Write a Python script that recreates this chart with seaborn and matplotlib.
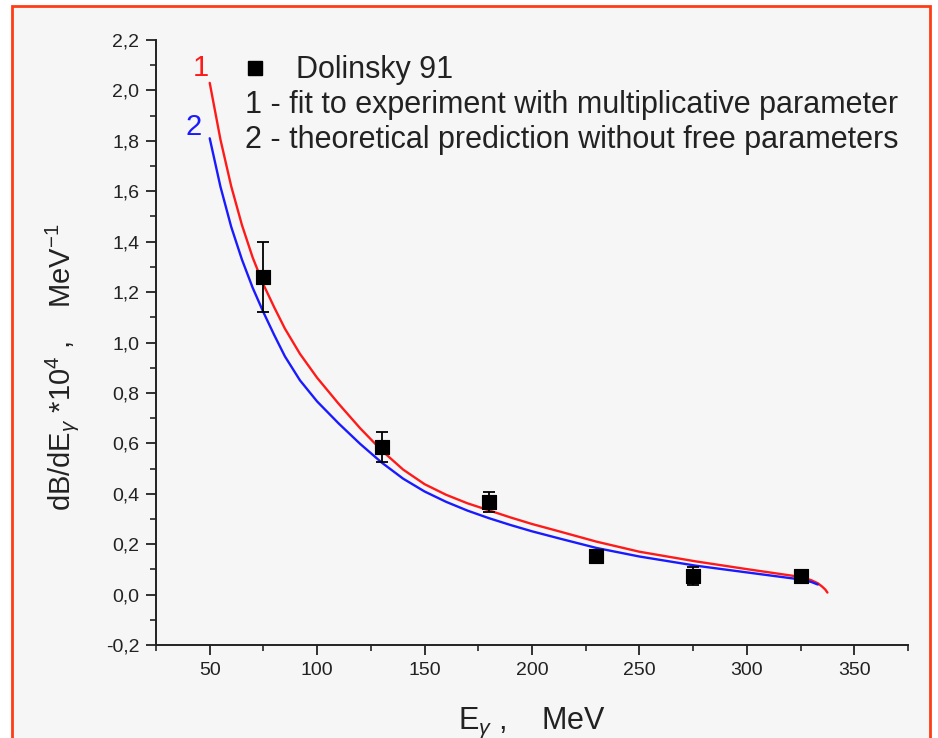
import numpy as np
import pandas as pd
import matplotlib
matplotlib.use("Agg")
import matplotlib.pyplot as plt
import seaborn as sns
from matplotlib.patches import Rectangle
from matplotlib.lines import Line2D
from matplotlib.ticker import MultipleLocator, FuncFormatter

# Dolinsky 91 data points
exp_e = [75, 130, 180, 230, 275, 325]
exp_val = [1.26, 0.585, 0.367, 0.152, 0.073, 0.073]
exp_err = [0.14, 0.06, 0.04, 0.015, 0.035, 0.0]

# curve 1 - fit (red)
fit_e = [50, 55, 60, 65, 70, 75, 80, 85, 92, 100, 110, 120, 130, 140, 150, 160,
         170, 180, 190, 200, 213, 230, 250, 276, 300, 325, 330, 333, 335, 336.5, 337.5]
fit_val = [2.03, 1.805, 1.62, 1.466, 1.337, 1.23, 1.14, 1.055, 0.955, 0.86, 0.757,
           0.66, 0.572, 0.496, 0.438, 0.396, 0.362, 0.334, 0.306, 0.28, 0.25, 0.21,
           0.17, 0.132, 0.101, 0.07, 0.057, 0.045, 0.032, 0.02, 0.008]

# curve 2 - theory (blue)
th_e = [50, 55, 60, 65, 70, 75, 80, 85, 92, 100, 110, 120, 130, 140, 150, 160,
        170, 180, 190, 200, 213, 230, 250, 276, 300, 325, 330, 333]
th_val = [1.81, 1.618, 1.459, 1.329, 1.217, 1.12, 1.03, 0.945, 0.85, 0.766, 0.679,
          0.598, 0.524, 0.46, 0.409, 0.368, 0.333, 0.303, 0.276, 0.251, 0.222, 0.185,
          0.151, 0.115, 0.088, 0.060, 0.050, 0.040]

sns.set_style("ticks")
plt.rcParams["font.family"] = ["Liberation Sans", "DejaVu Sans"]
plt.rcParams["mathtext.fontset"] = "custom"
plt.rcParams["mathtext.rm"] = "Liberation Sans"
plt.rcParams["mathtext.it"] = "Liberation Sans:italic"

fig = plt.figure(figsize=(9.38, 7.38), dpi=100, facecolor="white")
fig.patches.append(Rectangle((12 / 938, -0.02), 918 / 938, 1 - 6 / 738 + 0.02,
                             transform=fig.transFigure, facecolor="#f6f6f6",
                             edgecolor="#ff3c14", linewidth=2, zorder=-10))
ax = fig.add_axes([156 / 938, 1 - 645 / 738, (908 - 156) / 938, (645 - 40) / 738])
ax.set_facecolor("none")

fit_df = pd.DataFrame({"E": fit_e, "y": fit_val})
th_df = pd.DataFrame({"E": th_e, "y": th_val})
sns.lineplot(data=fit_df, x="E", y="y", ax=ax, color="#ff1a1a", lw=1.7, sort=False)
sns.lineplot(data=th_df, x="E", y="y", ax=ax, color="#1a1aff", lw=1.7, sort=False)

ax.errorbar(exp_e, exp_val, yerr=exp_err, fmt="none", ecolor="black",
            elinewidth=1.3, capsize=4.5, capthick=1.3, zorder=4)
sns.scatterplot(x=exp_e, y=exp_val, ax=ax, marker="s", s=105, color="black",
                edgecolor="black", zorder=5)

ax.set_xlim(25, 375)
ax.set_ylim(-0.2, 2.2)
ax.xaxis.set_major_locator(MultipleLocator(50))
ax.xaxis.set_minor_locator(MultipleLocator(25))
ax.yaxis.set_major_locator(MultipleLocator(0.2))
ax.yaxis.set_minor_locator(MultipleLocator(0.1))
ax.yaxis.set_major_formatter(FuncFormatter(lambda v, p: f"{v:.1f}".replace(".", ",").replace("-0,0", "0,0")))
ax.xaxis.set_major_formatter(FuncFormatter(lambda v, p: "" if v < 50 else f"{v:.0f}"))
ax.tick_params(which="major", direction="out", length=7, width=1.3, labelsize=14,
               colors="#222222", pad=5)
ax.tick_params(which="minor", direction="out", length=4, width=1.2)
for s in ["top", "right"]:
    ax.spines[s].set_visible(False)
for s in ["left", "bottom"]:
    ax.spines[s].set_linewidth(1.4)
    ax.spines[s].set_color("#222222")

ax.set_xlabel(r"E$_{\gamma}$ ,    MeV", fontsize=22, color="#222222", va="top")
ax.xaxis.set_label_coords(0.5, -0.1)
ax.set_ylabel(r"dB/dE$_{\gamma}$ *10$^{4}$ ,    MeV$^{-1}$", fontsize=21, color="#222222",
              va="center")
ax.yaxis.set_label_coords(-0.125, 0.46)

ax.text(45.8, 2.09, "1", color="#ff1a1a", fontsize=21, ha="center", va="center")
ax.text(42.6, 1.855, "2", color="#1a1aff", fontsize=21, ha="center", va="center")

handle = Line2D([], [], marker="s", color="black", ls="none", markersize=10)
ax.legend([handle], ["Dolinsky 91"], loc="upper left", bbox_to_anchor=(0.083, 1.01),
          frameon=False, fontsize=22, handlelength=1.0, handletextpad=0.84,
          borderaxespad=0.3, labelcolor="#222222")
ax.text(0.118, 0.893, "1 - fit to experiment with multiplicative parameter",
        transform=ax.transAxes, fontsize=22, color="#222222", va="center")
ax.text(0.118, 0.835, "2 - theoretical prediction without free parameters",
        transform=ax.transAxes, fontsize=22, color="#222222", va="center")

fig.savefig("out.png", dpi=100, facecolor=fig.get_facecolor())
